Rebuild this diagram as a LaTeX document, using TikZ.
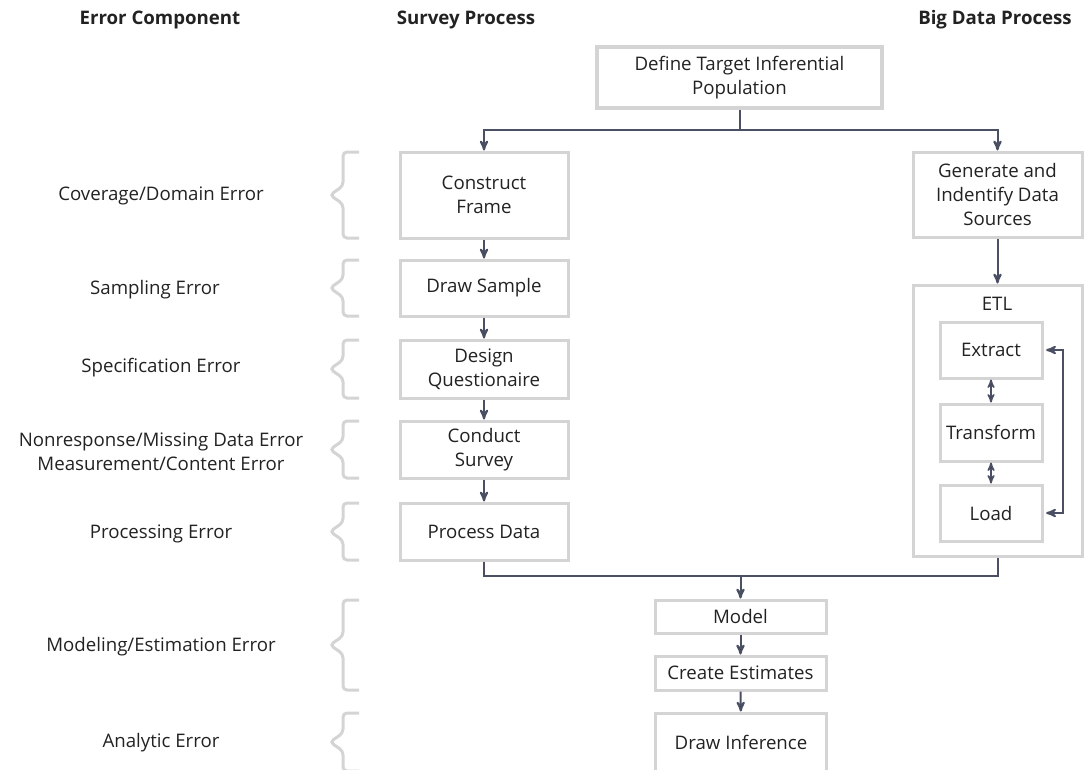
\documentclass[tikz,border=0pt]{standalone}
\usepackage{fontspec}
\setmainfont{Open Sans}
\usepackage{tikz}
\usetikzlibrary{arrows}
\definecolor{box_gray}{RGB}{212,212,212}
\definecolor{edge_slate}{RGB}{74,79,99}
\definecolor{text_dark}{RGB}{34,34,34}
% curly bracket in front of an error component, #1 = top, #2 = bottom
\newcommand\errbrace[2]{%
  \pgfmathsetmacro\bmid{(#1+#2)/2}%
  \draw[bracket] (359,#1) -- (343,#1) -- (343,\bmid-9) -- (330,\bmid)
    -- (343,\bmid+9) -- (343,#2) -- (359,#2);}

\begin{document}
\begin{tikzpicture}[x=0.75pt,y=-0.75pt,>=stealth',font=\fontsize{14}{18}\selectfont,text=text_dark]
    \tikzstyle{box}=[draw=box_gray, line width=2.25pt, inner sep=0pt, align=center, minimum width=126pt]
    \tikzstyle{small}=[style=box, minimum width=76.5pt]
    \tikzstyle{wide}=[style=box, minimum width=128.25pt]
    \tikzstyle{head}=[font=\fontsize{14}{18}\selectfont\bfseries]
    \tikzstyle{flow}=[draw=edge_slate, line width=1.5pt]
    \tikzstyle{bracket}=[draw=box_gray, line width=2.25pt, rounded corners=3pt]
    \useasboundingbox (0,0) rectangle (1092,769);

    \node[head] (h_err)    at (160,20)  {Error Component};
    \node[head] (h_survey) at (466,20)  {Survey Process};
    \node[head] (h_big)    at (995,20)  {Big Data Process};

    % survey process column
    \node[box, minimum width=213.75pt, minimum height=45.75pt, line width=3pt] (define) at (739.5,77.5) {Define Target Inferential\\Population};
    \node[box, minimum height=64.5pt]  (frame)   at (484,195)   {Construct\\Frame};
    \node[box, minimum height=42pt]    (sample)  at (484,288)   {Draw Sample};
    \node[box, minimum height=43.5pt]  (design)  at (484,369)   {Design\\Questionaire};
    \node[box, minimum height=42.75pt] (conduct) at (484,449.5) {Conduct\\Survey};
    \node[box, minimum height=42.75pt] (process) at (484,531.5) {Process Data};

    % big data column
    \node[box, minimum width=126.75pt, minimum height=63.75pt] (generate) at (997.5,194.5) {Generate and\\Indentify Data\\Sources};
    \node[box, minimum width=126.75pt, minimum height=203.25pt] (etl) at (997.5,420.5) {};
    \node[] (etl_lbl) at (997,304) {ETL};
    \node[small, minimum height=42pt]    (extract)   at (991,350)   {Extract};
    \node[small, minimum height=42.75pt] (transform) at (991,432.5) {Transform};
    \node[small, minimum height=42pt]    (load)      at (991,513)   {Load};

    % shared steps
    \node[wide, minimum height=24.75pt] (model)     at (740.5,616.5) {Model};
    \node[wide, minimum height=25.5pt]  (estimates) at (740.5,673)   {Create Estimates};
    \node[wide, minimum height=43.5pt]  (inference) at (741,742)     {Draw Inference};
    \coordinate (split) at (739.5,130);
    \coordinate (merge) at (740.5,576);

    % error components
    \node[] (e_cov)  at (161,196) {Coverage/Domain Error};
    \node[] (e_samp) at (155,290) {Sampling Error};
    \node[] (e_spec) at (161,368) {Specification Error};
    \node[align=center] (e_nonr) at (161,451.5) {Nonresponse/Missing Data Error\\Measurement/Content Error};
    \node[] (e_proc) at (161,534) {Processing Error};
    \node[] (e_mod)  at (161,647) {Modeling/Estimation Error};
    \node[] (e_ana)  at (161,743) {Analytic Error};

    \errbrace{152}{238}
    \errbrace{260}{316}
    \errbrace{340}{398}
    \errbrace{421}{478}
    \errbrace{503}{560}
    \errbrace{600}{690}
    \errbrace{713}{771}

    \draw[flow] (define.south) -- (split);
    \draw[flow,->] (split) -| (frame.north);
    \draw[flow,->] (split) -| (generate.north);
    \draw[flow] (process.south) |- (merge) -| (etl.south);
    \draw[flow,->] (merge) -- (model.north);
    \path[flow,->]
     (frame)     edge[] (sample)
     (sample)    edge[] (design)
     (design)    edge[] (conduct)
     (conduct)   edge[] (process)
     (generate)  edge[] (etl)
     (model)     edge[] (estimates)
     (estimates) edge[] (inference)
     ;
    \path[flow,<->,line width=1.2pt]
     (extract)   edge[] (transform)
     (transform) edge[] (load)
     ;
    \draw[flow,<->,shorten <=2pt,shorten >=2pt] (extract.east) -- ++(19,0) |- (load.east);
\end{tikzpicture}
\end{document}
